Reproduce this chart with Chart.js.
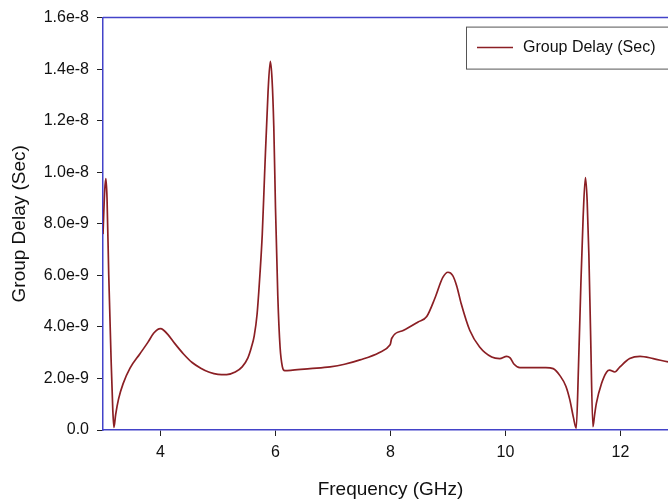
<!DOCTYPE html>
<html>
<head>
<meta charset="utf-8">
<script src="https://cdn.jsdelivr.net/npm/chart.js@4/dist/chart.umd.min.js"></script>
<style>
  html, body { margin: 0; padding: 0; background: #fff; overflow: hidden; width: 668px; height: 502px; }
  #chartDelay { display: block; }
</style>
</head>
<body>
<canvas id="chartDelay" width="690" height="502"></canvas>
<script>
// Valores (frecuencia en GHz, retardo en ns)
const freqGHz = [
  3.00, 3.03, 3.05, 3.07, 3.10, 3.14, 3.17, 3.19, 3.22, 3.27, 3.35, 3.47, 3.64, 3.78, 3.88,
  3.95, 4.00, 4.05, 4.13, 4.25, 4.40, 4.55, 4.70, 4.85, 5.00, 5.15, 5.30, 5.42, 5.52, 5.58,
  5.63, 5.68, 5.73, 5.77, 5.81, 5.87, 5.91, 5.94, 5.97, 6.00, 6.04, 6.08, 6.12, 6.16, 6.30,
  6.60, 6.95, 7.20, 7.47, 7.80, 7.99, 8.00, 8.02, 8.22, 8.48, 8.63, 8.77, 8.91, 9.00, 9.08,
  9.15, 9.23, 9.38, 9.55, 9.76, 9.90, 10.02, 10.08, 10.15, 10.25, 10.50, 10.70, 10.83, 10.95, 11.05,
  11.12, 11.18, 11.23, 11.27, 11.31, 11.35, 11.39, 11.42, 11.45, 11.48, 11.52, 11.55, 11.58, 11.67, 11.76,
  11.81, 11.90, 11.99, 12.16, 12.34, 12.57, 12.83, 13.00
];
const delayNs = [
  7.6, 9.3, 9.75, 9.0, 6.0, 2.8, 0.8, 0.1, 0.6, 1.2, 1.8, 2.4, 2.95, 3.4, 3.75,
  3.9, 3.93, 3.88, 3.7, 3.35, 2.95, 2.62, 2.4, 2.24, 2.16, 2.15, 2.25, 2.45, 2.8, 3.2,
  3.65, 4.5, 6.06, 7.6, 9.9, 13.1, 14.3, 13.6, 11.8, 8.6, 5.2, 3.2, 2.45, 2.3, 2.32,
  2.38, 2.45, 2.55, 2.72, 3.0, 3.3, 3.35, 3.55, 3.86, 4.19, 4.4, 5.1, 5.92, 6.12, 6.0,
  5.6, 4.9, 3.86, 3.22, 2.83, 2.77, 2.86, 2.8, 2.55, 2.42, 2.42, 2.42, 2.38, 2.1, 1.7,
  1.16, 0.5, 0.07, 2.5, 5.6, 8.24, 9.79, 8.9, 6.8, 3.73, 0.13, 0.6, 1.03, 1.8, 2.25,
  2.32, 2.25, 2.45, 2.77, 2.86, 2.77, 2.64, 2.58
];
const xTickValues = [4, 6, 8, 10, 12];
const seriesLabel = 'Group Delay (Sec)';

const AXIS_BLUE = '#4343c9';
const LINE_RED = '#8b1f24';
const FONT = 'Arial, "Liberation Sans", sans-serif';

const points = freqGHz.map((f, i) => ({ x: f, y: delayNs[i] * 1e-9 }));

// Marco superior/derecho y leyenda con borde
const framePlugin = {
  id: 'frame',
  afterDraw(chart) {
    const { ctx, chartArea: a } = chart;
    ctx.save();
    ctx.strokeStyle = AXIS_BLUE;
    ctx.lineWidth = 1.5;
    ctx.beginPath();
    ctx.moveTo(a.left, a.top);
    ctx.lineTo(a.right, a.top);
    ctx.lineTo(a.right, a.bottom);
    ctx.stroke();

    const bx = a.left + 363, by = a.top + 9;
    ctx.strokeStyle = '#555';
    ctx.lineWidth = 1;
    ctx.strokeRect(bx + 0.5, by + 0.5, 240, 42);
    ctx.strokeStyle = LINE_RED;
    ctx.lineWidth = 1.5;
    ctx.beginPath();
    ctx.moveTo(bx + 11, by + 21);
    ctx.lineTo(bx + 47, by + 21);
    ctx.stroke();
    ctx.fillStyle = '#111';
    ctx.font = '16px ' + FONT;
    ctx.textBaseline = 'middle';
    ctx.fillText(chart.data.datasets[0].label, bx + 57, by + 21);
    ctx.restore();
  }
};

new Chart(document.getElementById('chartDelay'), {
  type: 'line',
  data: {
    datasets: [{
      label: seriesLabel,
      data: points,
      borderColor: LINE_RED,
      borderWidth: 1.7,
      pointRadius: 0,
      cubicInterpolationMode: 'monotone',
      fill: false
    }]
  },
  options: {
    responsive: false,
    animation: false,
    layout: { padding: { top: 16, right: 12, bottom: 0, left: 0 } },
    plugins: { legend: { display: false }, tooltip: { enabled: false } },
    scales: {
      x: {
        type: 'linear',
        min: 3,
        max: 13,
        afterBuildTicks: (s) => { s.ticks = xTickValues.map(v => ({ value: v })); },
        afterFit: (s) => { s.height = 72; },
        border: { color: AXIS_BLUE, width: 1.5 },
        grid: { drawOnChartArea: false, tickLength: 6, tickColor: '#222' },
        ticks: { color: '#111', padding: 7, font: { family: FONT, size: 16 } },
        title: { display: true, text: 'Frequency (GHz)', color: '#111', padding: { top: 0, bottom: 1 }, font: { family: FONT, size: 19 } }
      },
      y: {
        min: 0,
        max: 1.6e-8,
        afterFit: (s) => { s.width = 103; },
        border: { color: AXIS_BLUE, width: 1.5 },
        grid: { drawOnChartArea: false, tickLength: 6, tickColor: '#222' },
        ticks: {
          stepSize: 2e-9,
          color: '#111',
          padding: 8,
          font: { family: FONT, size: 16 },
          callback: (v) => v === 0 ? '0.0' : Number(v).toExponential(1)
        },
        title: { display: true, text: 'Group Delay (Sec)', color: '#111', padding: { top: 8, bottom: 0 }, font: { family: FONT, size: 19 } }
      }
    }
  },
  plugins: [framePlugin]
});
</script>
</body>
</html>
